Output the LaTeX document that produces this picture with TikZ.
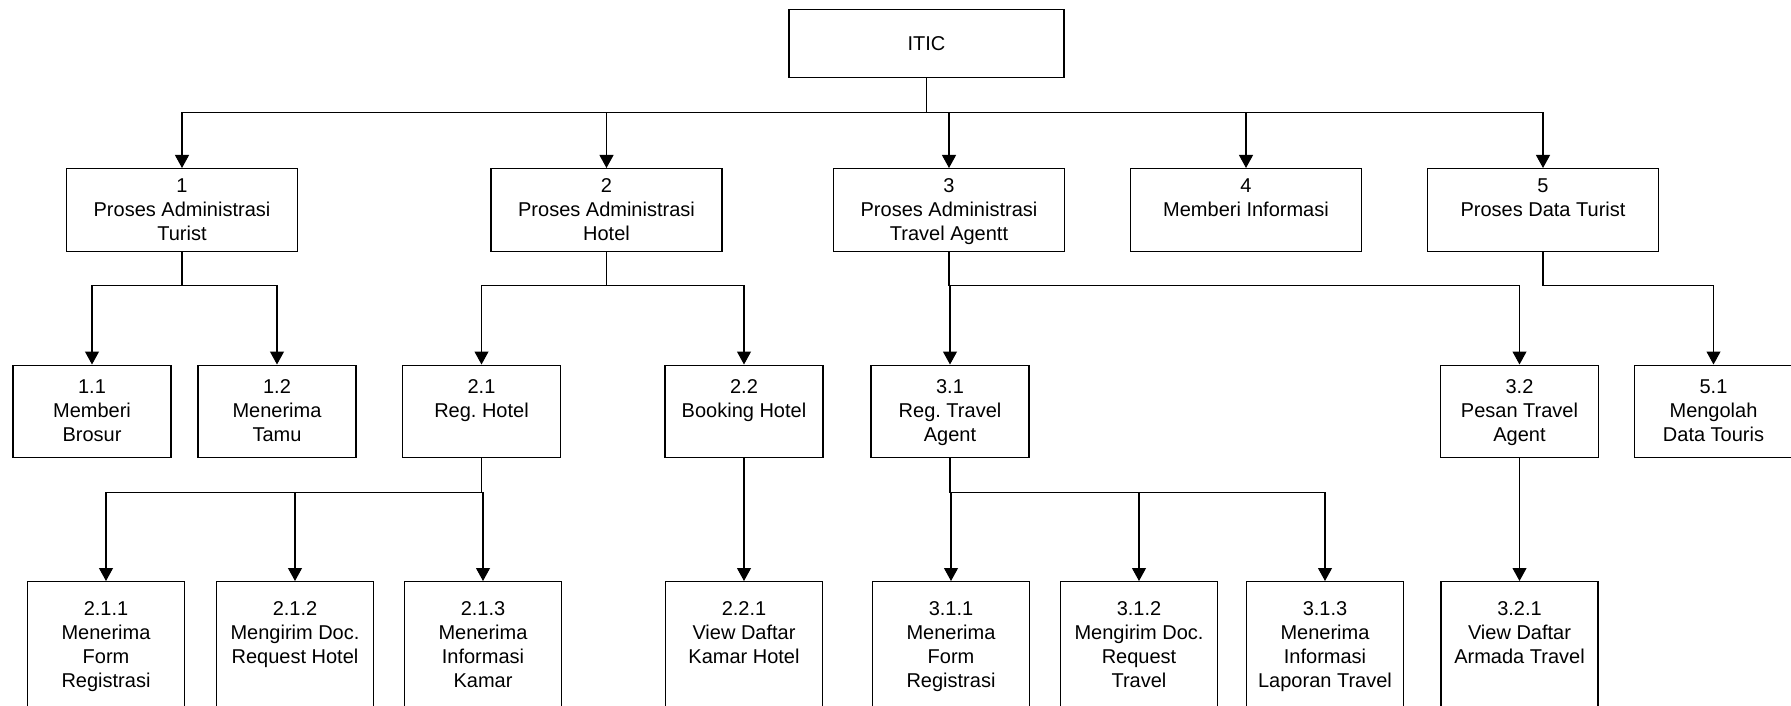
\documentclass[tikz,border=0pt]{standalone}
\usepackage{fontspec}
\setmainfont{Liberation Sans}
\usetikzlibrary{arrows.meta}
\frenchspacing

\newcommand{\boxtext}[4]{\parbox[c][#2][t]{#1}{\centering\rule{0pt}{#3}#4}}
\newcommand{\lvlone}[1]{\boxtext{231pt}{83pt}{24pt}{#1}}
\newcommand{\lvltwo}[1]{\boxtext{158pt}{92pt}{28.5pt}{#1}}
\newcommand{\lvlthree}[1]{\boxtext{157pt}{140pt}{34pt}{#1}}

\begin{document}
\begin{tikzpicture}[x=1pt, y=-1pt,
        proc/.style={draw, line width=1.2pt, inner sep=0pt, anchor=north, font=\fontsize{20}{24}\selectfont},
        root/.style={proc, minimum width=275pt, minimum height=68pt},
        conn/.style={line width=1.1pt, -{Triangle[width=14pt, length=13pt]}}]
        \clip (0,0) rectangle (1791,706);
        \node [root] (itic) at (926.5,9) {ITIC};
        % level 1
        \node [proc] (p1) at (182,168) {\lvlone{1\\Proses Administrasi\\Turist}};
        \node [proc] (p2) at (606.5,168) {\lvlone{2\\Proses Administrasi\\Hotel}};
        \node [proc] (p3) at (949,168) {\lvlone{3\\Proses Administrasi\\Travel Agentt}};
        \node [proc] (p4) at (1246,168) {\lvlone{4\\Memberi Informasi}};
        \node [proc] (p5) at (1543,168) {\lvlone{5\\Proses Data Turist}};
        % level 2
        \node [proc] (p11) at (92,364.5) {\lvltwo{1.1\\Memberi\\Brosur}};
        \node [proc] (p12) at (277,364.5) {\lvltwo{1.2\\Menerima\\Tamu}};
        \node [proc] (p21) at (481.5,364.5) {\lvltwo{2.1\\Reg. Hotel}};
        \node [proc] (p22) at (744,364.5) {\lvltwo{2.2\\Booking Hotel}};
        \node [proc] (p31) at (950,364.5) {\lvltwo{3.1\\Reg. Travel\\Agent}};
        \node [proc] (p32) at (1519.5,364.5) {\lvltwo{3.2\\Pesan Travel\\Agent}};
        \node [proc] (p51) at (1713.5,364.5) {\lvltwo{5.1\\Mengolah\\Data Touris}};
        % level 3
        \node [proc] (p211) at (106,581) {\lvlthree{2.1.1\\Menerima\\Form\\Registrasi}};
        \node [proc] (p212) at (295,581) {\lvlthree{2.1.2\\Mengirim Doc.\\Request Hotel}};
        \node [proc] (p213) at (483,581) {\lvlthree{2.1.3\\Menerima\\Informasi\\Kamar}};
        \node [proc] (p221) at (744,581) {\lvlthree{2.2.1\\View Daftar\\Kamar Hotel}};
        \node [proc] (p311) at (951,581) {\lvlthree{3.1.1\\Menerima\\Form\\Registrasi}};
        \node [proc] (p312) at (1139,581) {\lvlthree{3.1.2\\Mengirim Doc.\\Request\\Travel}};
        \node [proc] (p313) at (1325,581) {\lvlthree{3.1.3\\Menerima\\Informasi\\Laporan Travel}};
        \node [proc] (p321) at (1519.5,581) {\lvlthree{3.2.1\\View Daftar\\Armada Travel}};
        % connectors
        \foreach \k in {p1,p2,p3,p4,p5}
            \draw [conn] (itic.south) -- ++(0,34) -| (\k.north);
        \foreach \k in {p11,p12}
            \draw [conn] (p1.south) -- ++(0,33.5) -| (\k.north);
        \foreach \k in {p21,p22}
            \draw [conn] (p2.south) -- ++(0,33.5) -| (\k.north);
        \foreach \k in {p31,p32}
            \draw [conn] (p3.south) -- ++(0,33.5) -| (\k.north);
        \draw [conn] (p5.south) -- ++(0,33.5) -| (p51.north);
        \foreach \k in {p211,p212,p213}
            \draw [conn] (p21.south) -- ++(0,34.5) -| (\k.north);
        \foreach \k in {p311,p312,p313}
            \draw [conn] (p31.south) -- ++(0,34.5) -| (\k.north);
        \draw [conn] (p22) -- (p221);
        \draw [conn] (p32) -- (p321);
    \end{tikzpicture}
\end{document}
